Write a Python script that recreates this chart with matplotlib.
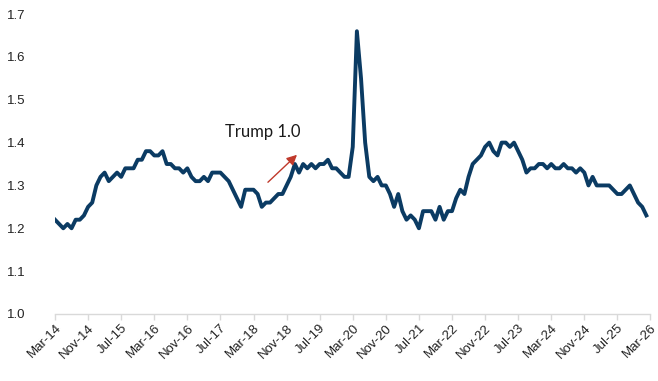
import matplotlib
matplotlib.use("Agg")
import matplotlib.pyplot as plt
import numpy as np

# Monthly values, Mar-14 .. Feb-26
values = [
    1.22, 1.21, 1.20, 1.21, 1.20, 1.22, 1.22, 1.23, 1.25, 1.26,
    1.30, 1.32, 1.33, 1.31, 1.32, 1.33, 1.32, 1.34, 1.34, 1.34,
    1.36, 1.36, 1.38, 1.38, 1.37, 1.37, 1.38, 1.35, 1.35, 1.34,
    1.34, 1.33, 1.34, 1.32, 1.31, 1.31, 1.32, 1.31, 1.33, 1.33,
    1.33, 1.32, 1.31, 1.29, 1.27, 1.25, 1.29, 1.29, 1.29, 1.28,
    1.25, 1.26, 1.26, 1.27, 1.28, 1.28, 1.30, 1.32, 1.35, 1.33,
    1.35, 1.34, 1.35, 1.34, 1.35, 1.35, 1.36, 1.34, 1.34, 1.33,
    1.32, 1.32, 1.39, 1.66, 1.55, 1.40, 1.32, 1.31, 1.32, 1.30,
    1.30, 1.28, 1.25, 1.28, 1.24, 1.22, 1.23, 1.22, 1.20, 1.24,
    1.24, 1.24, 1.22, 1.25, 1.22, 1.24, 1.24, 1.27, 1.29, 1.28,
    1.32, 1.35, 1.36, 1.37, 1.39, 1.40, 1.38, 1.37, 1.40, 1.40,
    1.39, 1.40, 1.38, 1.36, 1.33, 1.34, 1.34, 1.35, 1.35, 1.34,
    1.35, 1.34, 1.34, 1.35, 1.34, 1.34, 1.33, 1.34, 1.33, 1.30,
    1.32, 1.30, 1.30, 1.30, 1.30, 1.29, 1.28, 1.28, 1.29, 1.30,
    1.28, 1.26, 1.25, 1.23,
]
tick_labels = ["Mar-14", "Nov-14", "Jul-15", "Mar-16", "Nov-16", "Jul-17",
               "Mar-18", "Nov-18", "Jul-19", "Mar-20", "Nov-20", "Jul-21",
               "Mar-22", "Nov-22", "Jul-23", "Mar-24", "Nov-24", "Jul-25",
               "Mar-26"]
y_ticks = [1.0, 1.1, 1.2, 1.3, 1.4, 1.5, 1.6, 1.7]
annotation_text = "Trump 1.0"
arrow_tail = (51.0, 1.303)
arrow_head = (59.0, 1.376)
text_pos = (41.0, 1.425)

months = np.arange(len(values))
tick_pos = np.arange(len(tick_labels)) * 8

fig = plt.figure(figsize=(6.58, 3.81), dpi=100)
ax = fig.add_axes([0.0836, 0.176, 0.905, 0.787])

ax.plot(months, values, color="#0B3B63", lw=2.8, solid_joinstyle="round")

ax.set_xlim(0, 144)
ax.set_ylim(1.0, 1.7)
ax.set_yticks(y_ticks)
ax.set_yticklabels([f"{v:.1f}" for v in y_ticks], fontfamily="Liberation Sans",
                   fontsize=9.5, color="#222222")
ax.set_xticks(tick_pos)
ax.set_xticklabels(tick_labels, rotation=45, ha="right", rotation_mode="anchor",
                   fontfamily="Liberation Sans", fontsize=9.5, color="#222222")

for s in ["top", "right", "left"]:
    ax.spines[s].set_visible(False)
ax.spines["bottom"].set_color("#D9D9D9")
ax.spines["bottom"].set_linewidth(1.0)
ax.tick_params(axis="y", length=0, pad=21)
ax.tick_params(axis="x", length=4, color="#D9D9D9", width=1.0, pad=2)

ax.annotate("", xy=arrow_head, xytext=arrow_tail,
            arrowprops=dict(arrowstyle="-|>,head_length=0.6,head_width=0.3",
                            color="#C0392B", lw=1.0))
ax.text(text_pos[0], text_pos[1], annotation_text, fontfamily="Lato",
        fontsize=12, color="#1a1a1a", va="center", ha="left")

fig.savefig("out.png", dpi=100)
